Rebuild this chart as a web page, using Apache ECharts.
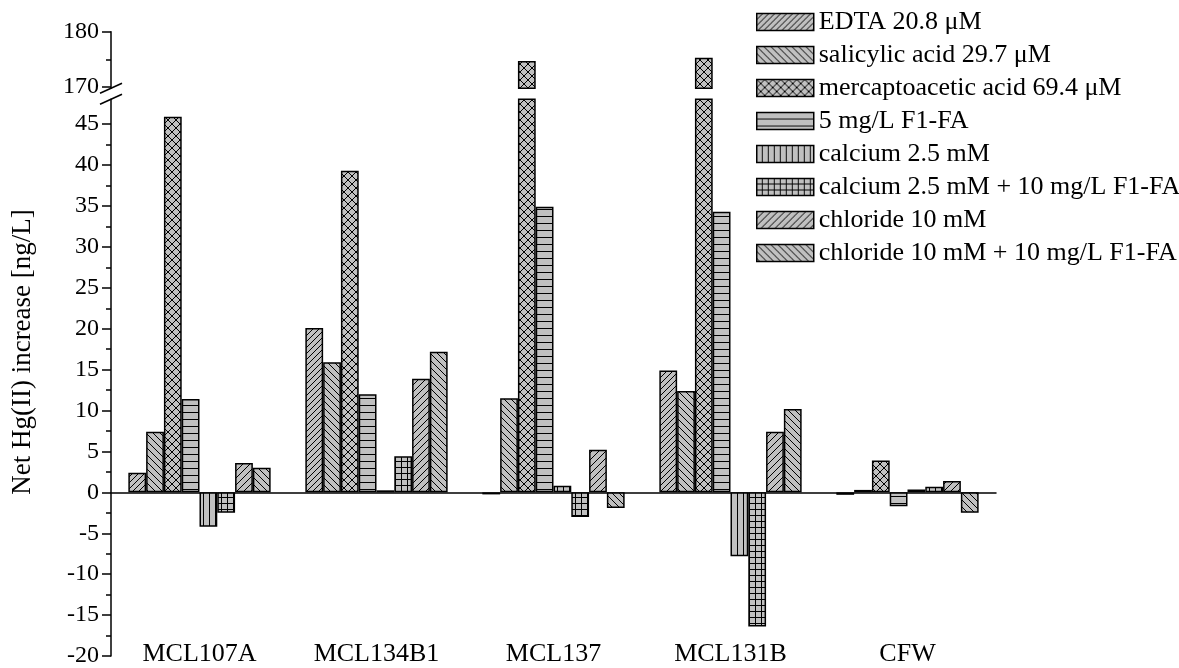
<!DOCTYPE html>
<html>
<head>
<meta charset="utf-8">
<script src="https://cdn.jsdelivr.net/npm/echarts@6/dist/echarts.min.js"></script>
<style>
  html, body { margin: 0; padding: 0; background: #ffffff; }
  #chart { width: 1179px; height: 668px; }
</style>
</head>
<body>
<div id="chart"></div>
<script>
// Sample sites along the category axis
const categories = ['MCL107A', 'MCL134B1', 'MCL137', 'MCL131B', 'CFW'];

// Treatments (legend order)
const seriesNames = [
  'EDTA 20.8 \u03bcM',
  'salicylic acid 29.7 \u03bcM',
  'mercaptoacetic acid 69.4 \u03bcM',
  '5 mg/L F1-FA',
  'calcium 2.5 mM',
  'calcium 2.5 mM + 10 mg/L F1-FA',
  'chloride 10 mM',
  'chloride 10 mM + 10 mg/L F1-FA'
];

// Net Hg(II) increase [ng/L] per site
const edta          = [2.4, 20.1, -0.25, 14.9, -0.3];
const salicylic     = [7.4, 15.9, 11.5, 12.4, 0.3];
const mercapto      = [45.9, 39.3, 174.7, 175.3, 3.9];
const fulvic        = [11.4, 12.0, 34.9, 34.3, -1.7];
const calcium       = [-4.2, 0.25, 0.8, -7.8, 0.35];
const calciumFulvic = [-2.5, 4.4, -3.0, -16.4, 0.7];
const chloride      = [3.6, 13.9, 5.2, 7.4, 1.4];
const chlorideFulvic= [3.0, 17.2, -1.9, 10.2, -2.5];

// Tick values of the broken value axis
const lowerTicks = [-20, -15, -10, -5, 0, 5, 10, 15, 20, 25, 30, 35, 40, 45];
const lowerMinorTicks = [-17.5, -12.5, -7.5, -2.5, 2.5, 7.5, 12.5, 17.5, 22.5, 27.5, 32.5, 37.5, 42.5];
const upperTicks = [170, 180];
const upperMinorTicks = [175];

const seriesValues = [edta, salicylic, mercapto, fulvic, calcium, calciumFulvic, chloride, chlorideFulvic];

// Layout of the two stacked panels (lower: -20..48, upper: 169.8..180)
const PLOT_LEFT = 111, PLOT_RIGHT = 183;
const LOWER_TOP = 99.3, LOWER_HEIGHT = 559.4, LOWER_MIN = -20, LOWER_MAX = 48.04;
const UPPER_TOP = 31.7, UPPER_HEIGHT = 56.6, UPPER_MIN = 169.77, UPPER_MAX = 180;

const FONT = '"Liberation Serif", "Times New Roman", serif';

// Grey fill with black hatching, drawn on a small repeating tile
function hatch(kind, step) {
  const c = document.createElement('canvas');
  c.width = step; c.height = step;
  const g = c.getContext('2d');
  g.fillStyle = '#c0c0c0';
  g.fillRect(0, 0, step, step);
  g.strokeStyle = '#000';
  g.lineWidth = 1;
  g.beginPath();
  if (kind === 'fwd' || kind === 'cross') {
    g.moveTo(-1, step + 1); g.lineTo(step + 1, -1);
    g.moveTo(-2, 2); g.lineTo(2, -2);
    g.moveTo(step - 2, step + 2); g.lineTo(step + 2, step - 2);
  }
  if (kind === 'back' || kind === 'cross') {
    g.moveTo(-1, -1); g.lineTo(step + 1, step + 1);
    g.moveTo(step - 2, -2); g.lineTo(step + 2, 2);
    g.moveTo(-2, step - 2); g.lineTo(2, step + 2);
  }
  if (kind === 'h' || kind === 'grid') {
    g.moveTo(0, step - 0.5); g.lineTo(step, step - 0.5);
  }
  if (kind === 'v' || kind === 'grid') {
    g.moveTo(step - 0.5, 0); g.lineTo(step - 0.5, step);
  }
  g.stroke();
  return { image: c, repeat: 'repeat' };
}

const fills = [
  hatch('fwd', 6),
  hatch('back', 7),
  hatch('cross', 8),
  hatch('h', 7),
  hatch('v', 6),
  hatch('grid', 6),
  hatch('fwd', 7),
  hatch('back', 7)
];

const series = [];
seriesNames.forEach((name, i) => {
  const itemStyle = { color: fills[i], borderColor: '#000', borderWidth: 1.5 };
  const common = {
    name, type: 'bar', data: seriesValues[i], itemStyle,
    barGap: '0%', barCategoryGap: '19.6%', clip: true, silent: true,
    emphasis: { disabled: true }
  };
  series.push(Object.assign({ xAxisIndex: 0, yAxisIndex: 0 }, common));
  series.push(Object.assign({ xAxisIndex: 3, yAxisIndex: 2 }, common));
});

// Axis-break marks on the value axis, centred on the two panel ends
const bx = PLOT_LEFT, upperEnd = UPPER_TOP + UPPER_HEIGHT, lowerEnd = LOWER_TOP;
const breakMarks = [upperEnd, lowerEnd].map(y => ({
  type: 'line',
  shape: { x1: bx - 11, y1: y + 5, x2: bx + 11, y2: y - 5 },
  style: { stroke: '#000', lineWidth: 1.5 },
  z: 100
}));

const axisLineStyle = { color: '#000', width: 1.5 };

const option = {
  backgroundColor: '#ffffff',
  animation: false,
  textStyle: { fontFamily: FONT, color: '#000' },
  grid: [
    { left: PLOT_LEFT, right: PLOT_RIGHT, top: LOWER_TOP, height: LOWER_HEIGHT },
    { left: PLOT_LEFT, right: PLOT_RIGHT, top: UPPER_TOP, height: UPPER_HEIGHT }
  ],
  legend: {
    data: seriesNames,
    orient: 'vertical',
    left: 756,
    top: 9,
    padding: 0,
    icon: 'rect',
    itemWidth: 57,
    itemHeight: 17,
    itemGap: 7,
    selectedMode: false,
    textStyle: { fontFamily: FONT, fontSize: 26, color: '#000' },
    itemStyle: { borderColor: '#000', borderWidth: 1.5 }
  },
  xAxis: [
    { // zero line with ticks at the site centres
      type: 'category', data: categories, gridIndex: 0, position: 'bottom',
      axisLine: { onZero: true, onZeroAxisIndex: 0, lineStyle: axisLineStyle },
      axisTick: { alignWithLabel: true, length: 10, lineStyle: axisLineStyle },
      axisLabel: { show: false }, splitLine: { show: false }
    },
    { // short ticks at the boundaries between sites
      type: 'category', data: categories, gridIndex: 0, position: 'bottom',
      axisLine: { show: false, onZero: true, onZeroAxisIndex: 0 },
      axisTick: { length: 6, lineStyle: axisLineStyle },
      axisLabel: { show: false }, splitLine: { show: false }
    },
    { // site names along the bottom
      type: 'category', data: categories, gridIndex: 0, position: 'bottom',
      axisLine: { show: false, onZero: false }, axisTick: { show: false },
      axisLabel: { fontFamily: FONT, fontSize: 26, color: '#000', margin: -15 },
      splitLine: { show: false }
    },
    {
      type: 'category', data: categories, gridIndex: 1, show: false
    }
  ],
  yAxis: [
    {
      type: 'value', gridIndex: 0, min: LOWER_MIN, max: LOWER_MAX, position: 'left',
      axisLine: { show: true, onZero: false, lineStyle: axisLineStyle },
      axisTick: { show: true, customValues: lowerTicks, length: 9, lineStyle: axisLineStyle },
      axisLabel: { customValues: lowerTicks, fontFamily: FONT, fontSize: 24, color: '#000', margin: 12 },
      splitLine: { show: false }
    },
    {
      type: 'value', gridIndex: 0, min: LOWER_MIN, max: LOWER_MAX, position: 'left',
      axisLine: { show: false, onZero: false },
      axisTick: { show: true, customValues: lowerMinorTicks, length: 5, lineStyle: axisLineStyle },
      axisLabel: { show: false }, splitLine: { show: false }
    },
    {
      type: 'value', gridIndex: 1, min: UPPER_MIN, max: UPPER_MAX, position: 'left',
      axisLine: { show: true, onZero: false, lineStyle: axisLineStyle },
      axisTick: { show: true, customValues: upperTicks, length: 9, lineStyle: axisLineStyle },
      axisLabel: { customValues: upperTicks, fontFamily: FONT, fontSize: 24, color: '#000', margin: 12 },
      splitLine: { show: false }
    },
    {
      type: 'value', gridIndex: 1, min: UPPER_MIN, max: UPPER_MAX, position: 'left',
      axisLine: { show: false, onZero: false },
      axisTick: { show: true, customValues: upperMinorTicks, length: 5, lineStyle: axisLineStyle },
      axisLabel: { show: false }, splitLine: { show: false }
    }
  ],
  graphic: [
    {
      type: 'text',
      x: 23, y: 352,
      rotation: Math.PI / 2,
      style: {
        text: 'Net Hg(II) increase [ng/L]',
        font: '27px ' + FONT,
        fill: '#000',
        align: 'center',
        verticalAlign: 'middle'
      }
    }
  ].concat(breakMarks),
  series
};

const chart = echarts.init(document.getElementById('chart'), null, { renderer: 'canvas' });
chart.setOption(option);
</script>
</body>
</html>
